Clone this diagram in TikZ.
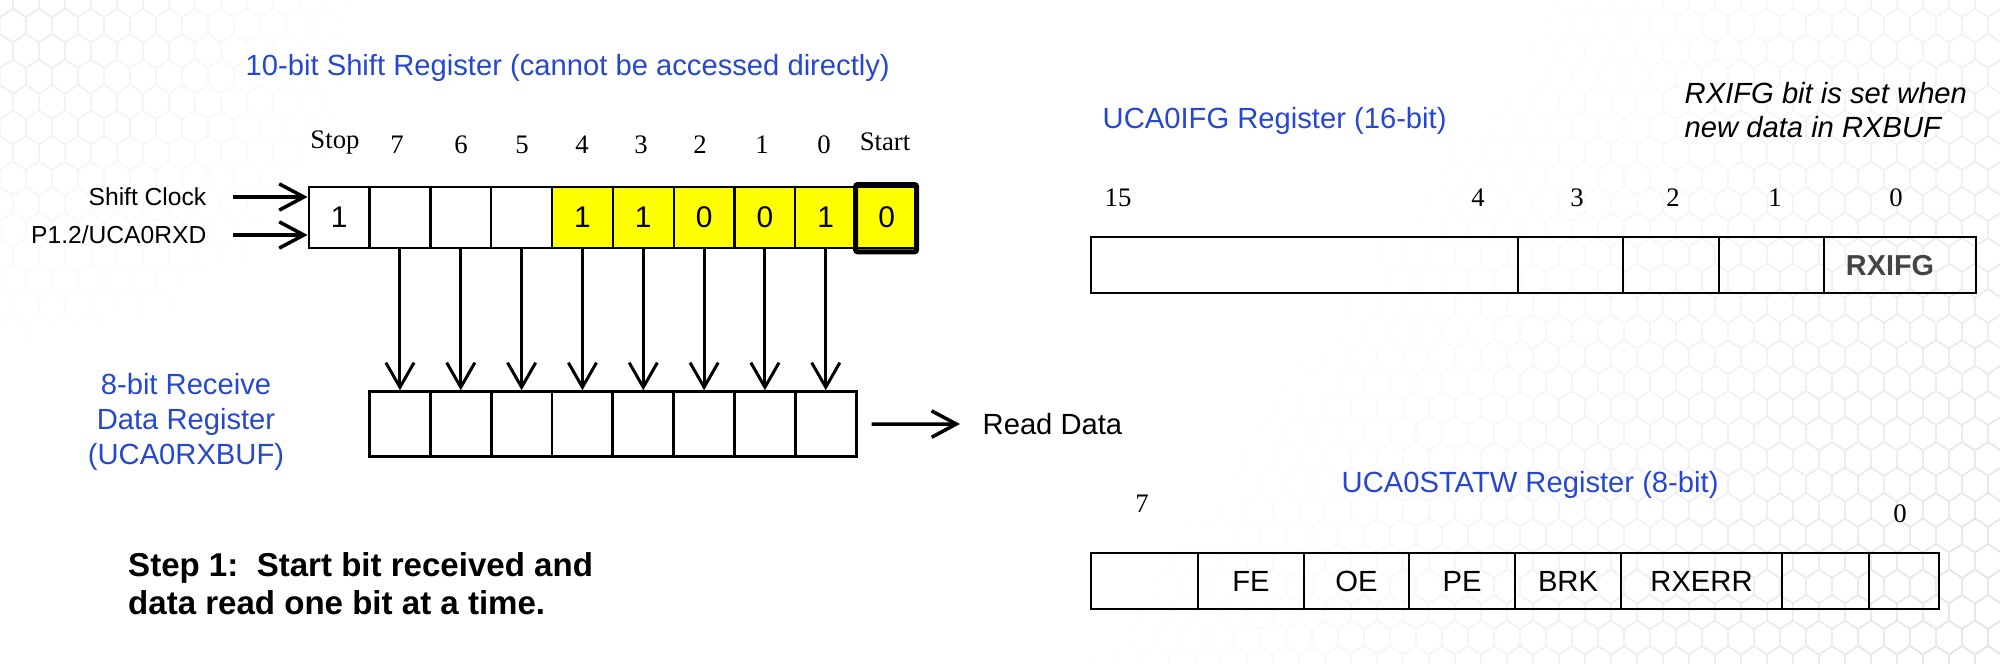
\documentclass[tikz,border=0pt]{standalone}
\usepackage{fontspec}
\setmainfont{Liberation Serif}
\setsansfont{Liberation Sans}
\usetikzlibrary{arrows.meta}
\definecolor{regblue}{RGB}{38,72,206}
\definecolor{rxgray}{RGB}{68,68,68}
\definecolor{bityellow}{RGB}{255,255,0}
\begin{document}
\begin{tikzpicture}[x=0.01cm,y=-0.01cm,
  bluetxt/.style={font=\sffamily\fontsize{8.3pt}{10pt}\selectfont, text=regblue, inner sep=0pt},
  sanstxt/.style={font=\sffamily\fontsize{8.3pt}{10pt}\selectfont, inner sep=0pt},
  lbltxt/.style={font=\sffamily\fontsize{7pt}{9pt}\selectfont, inner sep=0pt},
  bitnum/.style={font=\rmfamily\fontsize{7.6pt}{9pt}\selectfont, inner sep=0pt, anchor=base},
  shcell/.style={draw, line width=0.65pt, minimum width=0.6083cm, minimum height=0.61cm, inner sep=0pt,
                 font=\sffamily\fontsize{8.5pt}{10pt}\selectfont},
  ylw/.style={fill=bityellow},
  rxcell/.style={draw, line width=0.8pt, minimum width=0.6083cm, minimum height=0.65cm, inner sep=0pt},
  regcell/.style={draw, line width=0.8pt, minimum height=0.56cm, inner sep=0pt,
                  font=\sffamily\fontsize{8.3pt}{10pt}\selectfont},
  startbox/.style={draw, line width=1.42pt, rounded corners=0.6pt},
  inarrow/.style={line width=1pt, -{Straight Barb[length=7pt,width=7.5pt]}},
  downarrow/.style={line width=0.85pt, -{Straight Barb[length=7pt,width=8pt]}},
]
\useasboundingbox (0,0) rectangle (2000,664);

% faint honeycomb background
\begin{scope}
\clip (1000,0) rectangle (2000,664);
\foreach \r in {0,...,27}{
  \foreach \c in {0,...,39}{
    \pgfmathsetmacro\cx{1000+26*\c+13*mod(\r,2)}
    \pgfmathsetmacro\cy{25.5*\r}
    \pgfmathsetmacro\k{max(0,min(11,11*(\cx+0.7*\cy-1550)/900))}
    \draw[draw=black!\k, line width=0.4pt] (\cx,\cy) +(0,-17) -- +(13,-8.5) -- +(13,8.5) -- +(0,17) -- +(-13,8.5) -- +(-13,-8.5) -- cycle;
  }}
\end{scope}
\begin{scope}
\clip (0,0) rectangle (420,360);
\foreach \r in {0,...,14}{
  \foreach \c in {0,...,16}{
    \pgfmathsetmacro\cx{26*\c+13*mod(\r,2)}
    \pgfmathsetmacro\cy{25.5*\r}
    \pgfmathsetmacro\k{max(0,8*(1-veclen(\cx/100,\cy/100)/3.6))}
    \draw[draw=black!\k, line width=0.4pt] (\cx,\cy) +(0,-17) -- +(13,-8.5) -- +(13,8.5) -- +(0,17) -- +(-13,8.5) -- +(-13,-8.5) -- cycle;
  }}
\end{scope}

% ---------- 10-bit shift register ----------
\node[bluetxt, anchor=west] (title) at (245,68) {10-bit Shift Register (cannot be accessed directly)};

\foreach \i/\v/\f in {0/1/, 1//, 2//, 3//, 4/1/ylw, 5/1/ylw, 6/0/ylw, 7/0/ylw, 8/1/ylw, 9/0/ylw}{
  \pgfmathsetmacro\xx{308.7+60.83*(\i+0.5)}
  \node[shcell, \f] (s\i) at (\xx,217.7) {\v};
}
\draw[startbox] ([shift={(0.6,-1.5)}]s9.north west) rectangle ([shift={(-1.6,2.5)}]s9.south east);

\node[bitnum] (lstop) at (335,149) {Stop};
\foreach \x/\t/\n in {397/7/l7, 461/6/l6, 522/5/l5, 582/4/l4, 641/3/l3, 700/2/l2, 762/1/l1, 824/0/l0}{
  \node[bitnum] (\n) at (\x,153) {\t};
}
\node[bitnum] (lstart) at (885,151) {Start};

\node[lbltxt, anchor=east] (clk) at (207,197) {Shift Clock};
\node[lbltxt, anchor=east] (rxd) at (207,235) {P1.2/UCA0RXD};
\draw[inarrow] ([shift={(26,0)}]clk.east) -- (clk.east -| s0.west);
\draw[inarrow] ([shift={(26,0)}]rxd.east) -- (rxd.east -| s0.west);

% ---------- 8-bit receive buffer ----------
\foreach \i in {0,...,7}{
  \pgfmathsetmacro\xx{308.7+60.83*(\i+1.5)}
  \node[rxcell] (r\i) at (\xx,424.2) {};
}
\foreach \i [evaluate=\i as \j using int(\i+1)] in {0,...,7}{
  \draw[downarrow] (s\j.south) -- (r\i.north);
}
\node[bluetxt, align=center, font=\sffamily\fontsize{8.3pt}{10pt}\selectfont] (rxlbl) at (186,422)
  {8-bit Receive\\Data Register\\(UCA0RXBUF)};

\node[sanstxt, anchor=west] (rd) at (982,424) {Read Data};
\draw[inarrow] ([shift={(14,0)}]r7.east) -- ([shift={(-22,0)}]rd.west);

\node[anchor=west, align=left, inner sep=0pt, font=\sffamily\bfseries\fontsize{9.4pt}{10.9pt}\selectfont] (step) at (127.5,584)
  {Step 1:\ \ Start bit received and\\data read one bit at a time.};

% ---------- UCA0IFG register ----------
\node[bluetxt, anchor=west] (ifgtitle) at (1102,121) {UCA0IFG Register (16-bit)};
\node[anchor=west, align=left, inner sep=0pt, font=\sffamily\itshape\fontsize{8.3pt}{9.7pt}\selectfont] (note) at (1684,110)
  {RXIFG bit is set when\\new data in RXBUF};

\foreach \a/\b/\t/\n in {1091/1518//g4, 1518/1623//g3, 1623/1719//g2, 1719/1824//g1}{
  \pgfmathsetmacro\w{(\b-\a)*0.01}
  \pgfmathsetmacro\xx{(\a+\b)/2}
  \node[regcell, minimum width=\w cm] (\n) at (\xx,265) {\t};
}
\node[regcell, minimum width=1.52cm] (g0) at (1900,265) {};
\node[inner sep=0pt, text=rxgray, font=\sffamily\bfseries\fontsize{8.2pt}{10pt}\selectfont] (rxifg) at (1890,266) {RXIFG};

\foreach \x/\t/\n in {1118/15/i15, 1478/4/i4, 1577/3/i3, 1673/2/i2, 1775/1/i1, 1896/0/i0}{
  \node[bitnum] (\n) at (\x,206) {\t};
}

% ---------- UCA0STATW register ----------
\node[bluetxt, anchor=west] (stattitle) at (1341,485) {UCA0STATW Register (8-bit)};
\node[bitnum] (w7) at (1142,512) {7};
\node[bitnum] (w0) at (1900,522) {0};

\foreach \a/\b/\t/\n in {1091/1198//w7c, 1198/1304/FE/w6c, 1304/1409/OE/w5c, 1409/1515/PE/w4c,
                         1515/1621/BRK/w3c, 1621/1782/RXERR/w2c, 1782/1869//w1c, 1869/1939//w0c}{
  \pgfmathsetmacro\w{(\b-\a)*0.01}
  \pgfmathsetmacro\xx{(\a+\b)/2}
  \node[regcell, minimum width=\w cm] (\n) at (\xx,581) {\t};
}
\end{tikzpicture}
\end{document}
